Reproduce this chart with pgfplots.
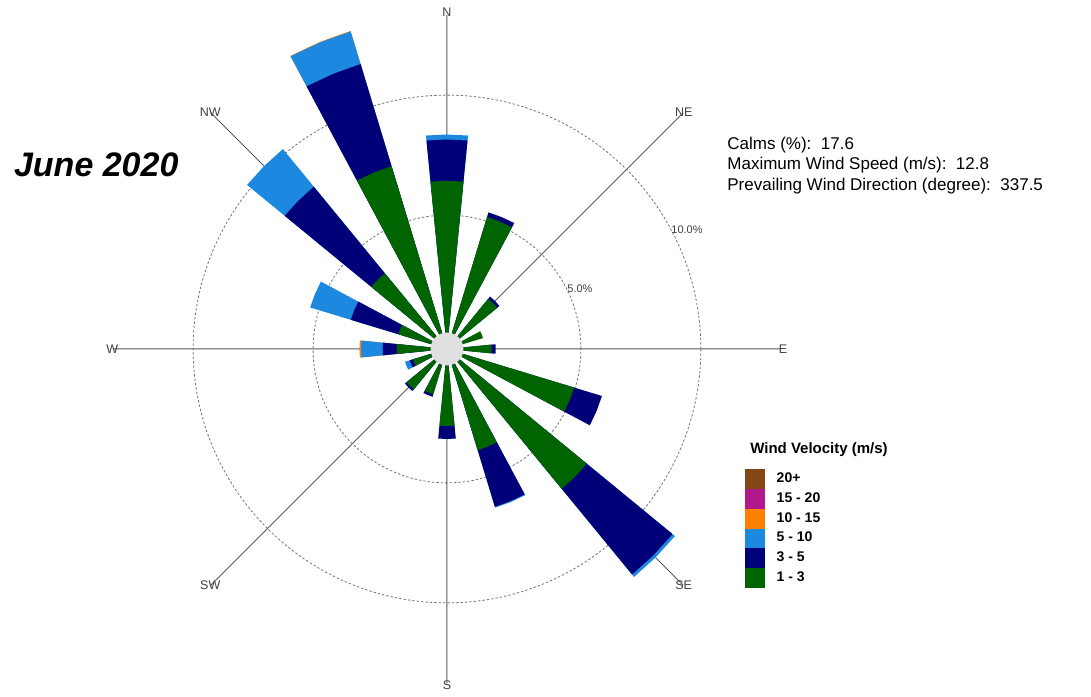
\documentclass[border=0pt]{standalone}
\usepackage{fontspec}
\setmainfont{Liberation Sans}
\usepackage{pgfplots}
\usepackage{pgfplotstable}
\pgfplotsset{compat=1.18}
\usepgfplotslibrary{polar}

\definecolor{c13}{RGB}{0,100,0}
\definecolor{c35}{RGB}{0,0,120}
\definecolor{c510}{RGB}{28,136,224}
\definecolor{c1015}{RGB}{255,128,0}
\definecolor{c1520}{RGB}{176,24,140}
\definecolor{c20}{RGB}{134,70,20}
\definecolor{calm}{RGB}{224,224,224}

% cumulative frequency (%) per direction (deg from N), by speed class
% g: 1-3, n: 3-5, b: 5-10, o: 10-15 m/s
\pgfplotstableread{
dir    g     n      b      o
0      6.43  8.15   8.36   8.36
22.5   5.17  5.37   5.37   5.37
45     2.13  2.25   2.25   2.25
67.5   0.99  0.99   0.99   0.99
90     1.28  1.45   1.45   1.45
112.5  4.96  6.17   6.17   6.17
135    6.96  11.58  11.71  11.71
157.5  3.83  6.29   6.33   6.33
180    2.63  3.17   3.17   3.17
202.5  1.39  1.50   1.50   1.50
225    1.60  1.69   1.69   1.69
247.5  0.90  1.04   1.25   1.25
270    1.51  2.10   3.00   3.07
292.5  1.54  3.61   5.38   5.38
315    3.50  8.17   10.20  10.20
337.5  7.38  11.83  13.25  13.27
}\rose

% radius of 0 % (edge of the calm circle)
\def\rzero{0.58}

% one wedge from the centre: colour, cumulative value, value of the class below
\newcommand\petal[3]{%
  \pgfmathtruncatemacro\flag{(#2>#3)}%
  \ifnum\flag=1
    \pgfmathsetmacro\rr{#2+\rzero}%
    \edef\doplot{\noexpand\addplot[draw=none,fill=#1,forget plot]
      coordinates {(0,0) (\angA,\rr) (\angM,\rr) (\angB,\rr)};}%
    \doplot
  \fi}

\begin{document}
\begin{tikzpicture}[
  clab/.style={font=\fontsize{6.25}{7}\selectfont, text=black!75, inner sep=0pt},
  plab/.style={font=\fontsize{5.5}{6}\selectfont, text=black!75, inner sep=0pt}]
\begin{polaraxis}[
  anchor=origin, at={(0,0)},
  scale only axis, width=334pt, height=334pt,
  xmin=0, xmax=360, ymin=0, ymax=13.92,
  xtick={0,45,...,315}, ytick={5.58,10.58},
  xticklabels={}, yticklabels={},
  major tick length=0pt,
  axis line style={draw=none},
  xmajorgrids, ymajorgrids,
  x grid style={black!65, line width=0.5pt},
  y grid style={black!55, line width=0.4pt, dash pattern=on 1.2pt off 1pt},
  clip=false,
  legend style={at={(axis description cs:0.946,0.320)}, anchor=north west,
    draw=none, fill=none, inner sep=0pt, outer sep=0pt,
    row sep=0pt, column sep=6pt,
    font=\bfseries\fontsize{7}{8}\selectfont, nodes={inner sep=0pt}},
  legend cell align=left,
  legend image code/.code={\fill[#1] (0pt,-4.75pt) rectangle (9.5pt,4.75pt);},
]
\pgfplotstablegetrowsof{\rose}
\pgfmathtruncatemacro\nrows{\pgfplotsretval-1}
\pgfplotsforeachungrouped \k in {0,...,\nrows}{%
  \pgfplotstablegetelem{\k}{dir}\of\rose \let\vD\pgfplotsretval
  \pgfplotstablegetelem{\k}{g}\of\rose \let\vG\pgfplotsretval
  \pgfplotstablegetelem{\k}{n}\of\rose \let\vN\pgfplotsretval
  \pgfplotstablegetelem{\k}{b}\of\rose \let\vB\pgfplotsretval
  \pgfplotstablegetelem{\k}{o}\of\rose \let\vO\pgfplotsretval
  \pgfmathsetmacro\angM{90-\vD}%
  \pgfmathsetmacro\angA{\angM-5.625}%
  \pgfmathsetmacro\angB{\angM+5.625}%
  \petal{c1015}{\vO}{\vB}%
  \petal{c510}{\vB}{\vN}%
  \petal{c35}{\vN}{\vG}%
  \petal{c13}{\vG}{0}%
}

% calm circle
\addplot[only marks, mark=*, mark size=8pt, draw=calm, fill=calm,
  mark options={solid, fill=calm, draw=calm}, forget plot]
  coordinates {(0,0)};

\addlegendimage{c20}    \addlegendentry{20+}
\addlegendimage{c1520}  \addlegendentry{15 - 20}
\addlegendimage{c1015}  \addlegendentry{10 - 15}
\addlegendimage{c510}   \addlegendentry{5 - 10}
\addlegendimage{c35}    \addlegendentry{3 - 5}
\addlegendimage{c13}    \addlegendentry{1 - 3}

\node[clab] at (axis cs:90,14.05)  {N};
\node[clab] at (axis cs:45,13.95)  {NE};
\node[clab] at (axis cs:0,14.0)    {E};
\node[clab] at (axis cs:315,13.95) {SE};
\node[clab] at (axis cs:270,14.0)  {S};
\node[clab] at (axis cs:225,13.95) {SW};
\node[clab] at (axis cs:180,13.95) {W};
\node[clab] at (axis cs:135,13.95) {NW};

\node[plab] at (axis cs:24.3,6.08)  {5.0\%};
\node[plab] at (axis cs:26.4,11.17) {10.0\%};
\end{polaraxis}

\node[anchor=base west, font=\bfseries\itshape\fontsize{17}{19}\selectfont]
  at (-220pt,86.15pt) {June 2020};

\node[anchor=base west, inner sep=0pt, font=\fontsize{8.5}{10}\selectfont]
  at (140pt,99.85pt) {Calms (\%):\ \ 17.6};
\node[anchor=base west, inner sep=0pt, font=\fontsize{8.5}{10}\selectfont]
  at (140pt,89.5pt) {Maximum Wind Speed (m/s):\ \ 12.8};
\node[anchor=base west, inner sep=0pt, font=\fontsize{8.5}{10}\selectfont]
  at (140pt,79.15pt) {Prevailing Wind Direction (degree):\ \ 337.5};

\node[font=\bfseries\fontsize{7.5}{9}\selectfont] at (186pt,-50.5pt) {Wind Velocity (m/s)};

\path (-223.5pt,-171.5pt) rectangle (322pt,174.5pt);
\end{tikzpicture}
\end{document}
